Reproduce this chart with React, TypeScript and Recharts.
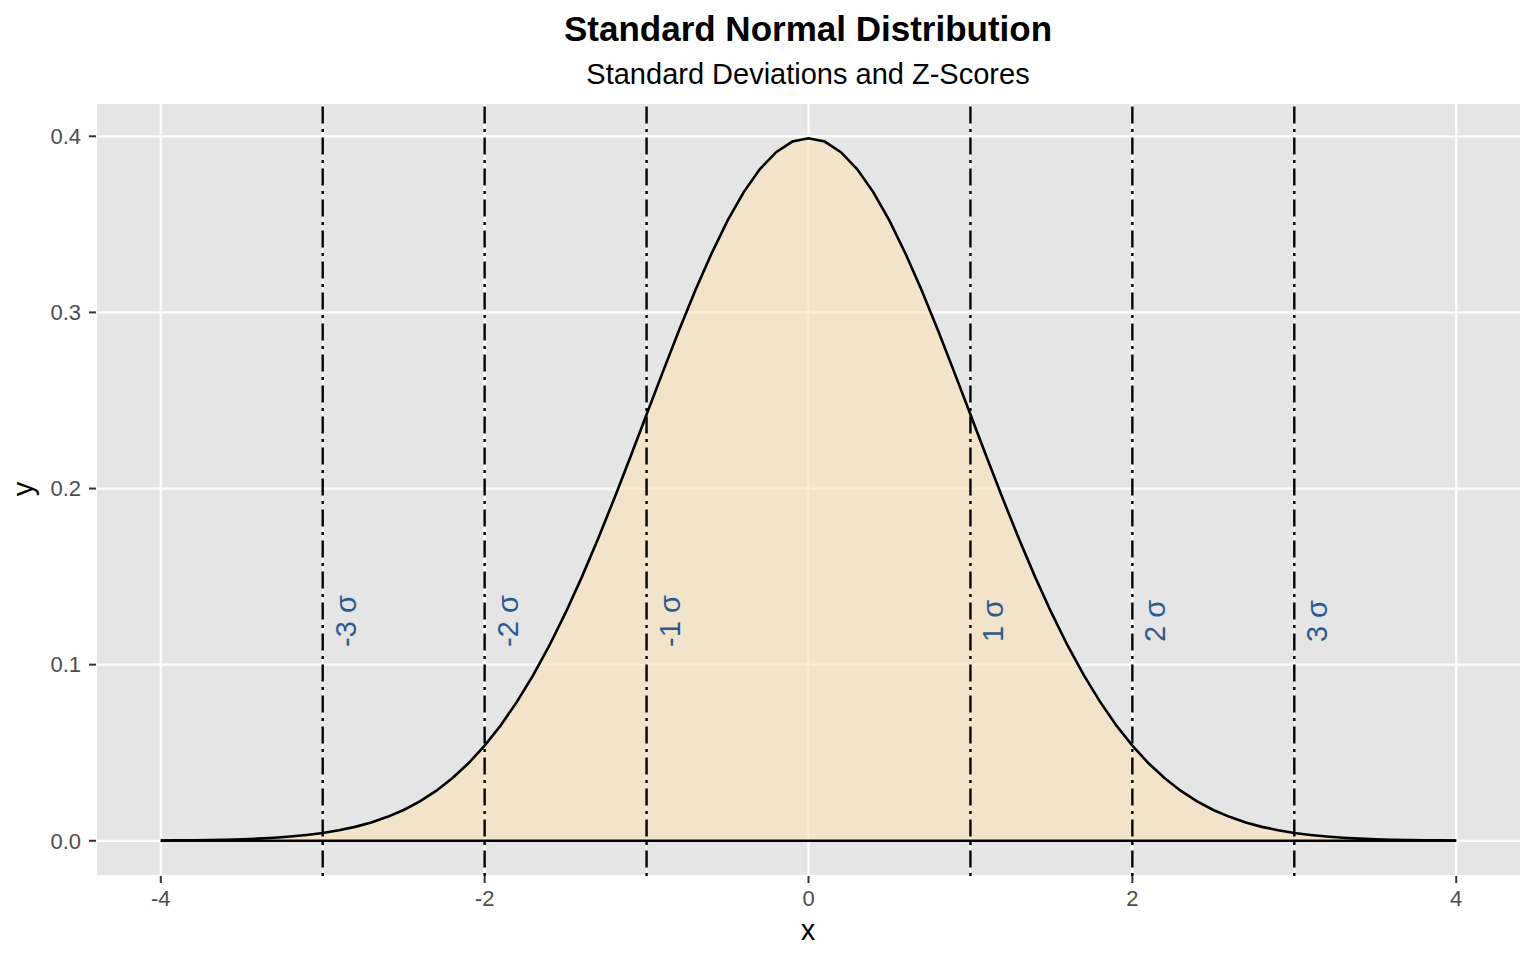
import {
  ComposedChart,
  Area,
  XAxis,
  YAxis,
  CartesianGrid,
  ReferenceLine,
} from "recharts";

// density, x from -4 to 4 in steps of 0.1
const xs = [
  -4.0, -3.9, -3.8, -3.7, -3.6, -3.5, -3.4, -3.3, -3.2, -3.1,
  -3.0, -2.9, -2.8, -2.7, -2.6, -2.5, -2.4, -2.3, -2.2, -2.1,
  -2.0, -1.9, -1.8, -1.7, -1.6, -1.5, -1.4, -1.3, -1.2, -1.1,
  -1.0, -0.9, -0.8, -0.7, -0.6, -0.5, -0.4, -0.3, -0.2, -0.1,
  0.0, 0.1, 0.2, 0.3, 0.4, 0.5, 0.6, 0.7, 0.8, 0.9,
  1.0, 1.1, 1.2, 1.3, 1.4, 1.5, 1.6, 1.7, 1.8, 1.9,
  2.0, 2.1, 2.2, 2.3, 2.4, 2.5, 2.6, 2.7, 2.8, 2.9,
  3.0, 3.1, 3.2, 3.3, 3.4, 3.5, 3.6, 3.7, 3.8, 3.9, 4.0,
];
const density = [
  0.0001, 0.0002, 0.0003, 0.0004, 0.0006, 0.0009, 0.0012, 0.0017, 0.0024, 0.0033,
  0.0044, 0.006, 0.0079, 0.0104, 0.0136, 0.0175, 0.0224, 0.0283, 0.0355, 0.044,
  0.054, 0.0656, 0.079, 0.094, 0.1109, 0.1295, 0.1497, 0.1714, 0.1942, 0.2179,
  0.242, 0.2661, 0.2897, 0.3123, 0.3332, 0.3521, 0.3683, 0.3814, 0.391, 0.397,
  0.3989, 0.397, 0.391, 0.3814, 0.3683, 0.3521, 0.3332, 0.3123, 0.2897, 0.2661,
  0.242, 0.2179, 0.1942, 0.1714, 0.1497, 0.1295, 0.1109, 0.094, 0.079, 0.0656,
  0.054, 0.044, 0.0355, 0.0283, 0.0224, 0.0175, 0.0136, 0.0104, 0.0079, 0.006,
  0.0044, 0.0033, 0.0024, 0.0017, 0.0012, 0.0009, 0.0006, 0.0004, 0.0003, 0.0002, 0.0001,
];

const sigmaLines = [-3, -2, -1, 1, 2, 3];
const sigmaLabels = ["-3 σ", "-2 σ", "-1 σ", "1 σ", "2 σ", "3 σ"];

const xMajor = [-4, -2, 0, 2, 4];
const xAll = [-4, -3, -2, -1, 0, 1, 2, 3, 4];
const yMajor = [0, 0.1, 0.2, 0.3, 0.4];
const yAll = [0, 0.05, 0.1, 0.15, 0.2, 0.25, 0.3, 0.35, 0.4];

const data = xs.map((x, i) => ({ x, y: density[i] }));

const font = "'Liberation Sans', Arial, Helvetica, sans-serif";

function XTick({ x, y, payload }: any) {
  return (
    <text x={x} y={y} dy="0.71em" textAnchor="middle" fill="#4D4D4D" fontSize={22} fontFamily={font}>
      {payload.value}
    </text>
  );
}

function YTick({ x, y, payload }: any) {
  return (
    <text x={x} y={y} dy="0.355em" textAnchor="end" fill="#4D4D4D" fontSize={22} fontFamily={font}>
      {Number(payload.value).toFixed(1)}
    </text>
  );
}

function SigmaLabel({ viewBox, text }: any) {
  if (!viewBox) return null;
  const cx = viewBox.x + 23;
  const cy = 621;
  return (
    <text
      x={cx}
      y={cy}
      transform={`rotate(-90 ${cx} ${cy})`}
      textAnchor="middle"
      dominantBaseline="central"
      fill="#2E5A8F"
      fontSize={29}
      fontFamily={font}
    >
      {text}
    </text>
  );
}

export default function App() {
  return (
    <div style={{ position: "fixed", left: 0, top: 0, width: 1536, height: 960, background: "#fff" }}>
      <ComposedChart
        width={1536}
        height={960}
        data={data}
        margin={{ top: 103, right: 15, bottom: 50, left: 50 }}
      >
        <XAxis xAxisId="all" dataKey="x" type="number" domain={[-4.4, 4.4]} ticks={xAll} hide />
        <YAxis yAxisId="all" type="number" domain={[-0.02, 0.4189]} ticks={yAll} hide />
        <CartesianGrid xAxisId="all" yAxisId="all" fill="#E5E5E5" stroke="#FFFFFF" strokeWidth={1} />
        <CartesianGrid stroke="#FFFFFF" strokeWidth={2.2} />
        <XAxis
          dataKey="x"
          type="number"
          domain={[-4.4, 4.4]}
          ticks={xMajor}
          allowDataOverflow
          height={34}
          axisLine={false}
          tickLine={{ stroke: "#333333", strokeWidth: 2 }}
          tickSize={7}
          tickMargin={7}
          tick={<XTick />}
        />
        <YAxis
          type="number"
          domain={[-0.02, 0.4189]}
          ticks={yMajor}
          allowDataOverflow
          width={46}
          axisLine={false}
          tickLine={{ stroke: "#333333", strokeWidth: 2 }}
          tickSize={7}
          tickMargin={8}
          tick={<YTick />}
        />
        <Area
          type="linear"
          dataKey="y"
          stroke="#000000"
          strokeWidth={2.6}
          fill="#FAE2B8"
          fillOpacity={0.6}
          isAnimationActive={false}
        />
        <ReferenceLine
          segment={[{ x: -4, y: 0 }, { x: 4, y: 0 }]}
          stroke="#000000"
          strokeWidth={2.6}
        />
        {sigmaLines.map((s, i) => (
          <ReferenceLine
            key={s}
            x={s}
            stroke="#000000"
            strokeWidth={2.4}
            strokeDasharray="3 5.5 17 5.5"
            label={<SigmaLabel text={sigmaLabels[i]} />}
          />
        ))}
      </ComposedChart>
      <svg
        width={1536}
        height={960}
        style={{ position: "absolute", left: 0, top: 0, pointerEvents: "none" }}
        fontFamily={font}
      >
        <text x={808} y={40.5} textAnchor="middle" fontSize={35} fontWeight={700} fill="#000">
          Standard Normal Distribution
        </text>
        <text x={808} y={83.5} textAnchor="middle" fontSize={29} fill="#000">
          Standard Deviations and Z-Scores
        </text>
        <text x={808} y={939.5} textAnchor="middle" fontSize={29} fill="#000">
          x
        </text>
        <text x={33} y={489} textAnchor="middle" fontSize={29} fill="#000" transform="rotate(-90 33 489)">
          y
        </text>
      </svg>
    </div>
  );
}
